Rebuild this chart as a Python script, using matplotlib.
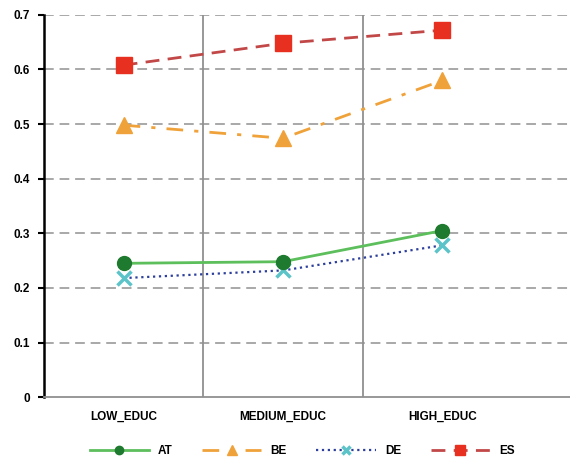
import matplotlib
matplotlib.use("Agg")
import matplotlib.pyplot as plt

categories = ["LOW_EDUC", "MEDIUM_EDUC", "HIGH_EDUC"]
at = [0.245, 0.248, 0.305]
be = [0.498, 0.474, 0.580]
de = [0.218, 0.232, 0.278]
es = [0.608, 0.648, 0.672]
yticks = [0, 0.1, 0.2, 0.3, 0.4, 0.5, 0.6, 0.7]
ytick_labels = ["0", "0.1", "0.2", "0.3", "0.4", "0.5", "0.6", "0.7"]

plt.rcParams['font.family'] = ['Liberation Sans', 'DejaVu Sans']
fig = plt.figure(figsize=(5.7, 4.65), dpi=100)
ax = fig.add_axes([0.077, 0.146, 0.923, 0.822])

x = list(range(len(categories)))
ax.plot(x, at, color="#5cbf5c", lw=2, ls="-", marker="o", ms=10,
        mfc="#1e7a2e", mec="#1e7a2e", label="AT", zorder=4)
ax.plot(x, be, color="#f0a23a", lw=2, ls=(0, (6, 4, 1.5, 4)), marker="^", ms=11,
        mfc="#f0a23a", mec="#f0a23a", label="BE", zorder=3)
ax.plot(x, de, color="#2c3f9c", lw=1.6, ls=":", marker="x", ms=10, mew=2.5,
        mfc="#5cc4c8", mec="#5cc4c8", label="DE", zorder=3)
ax.plot(x, es, color="#c24848", lw=2, ls=(0, (5, 3)), marker="s", ms=11,
        mfc="#e83020", mec="#e83020", label="ES", zorder=3)

ax.set_xlim(-0.5, 2.8)
ax.set_ylim(0, 0.7)
ax.set_yticks(yticks)
ax.set_yticklabels(ytick_labels, fontsize=8.5, fontweight="bold")
ax.set_xticks(x)
ax.set_xticklabels(categories, fontsize=8.5, fontweight="bold")
ax.tick_params(axis="x", length=0, pad=10)
ax.tick_params(axis="y", length=4, width=1.5, color="black", pad=6)

for yv in yticks[1:]:
    ax.axhline(yv, color="#a8a8a8", lw=1.4, ls=(0, (5, 3)), zorder=1)
for xv in [0.5, 1.5]:
    ax.axvline(xv, color="#909090", lw=1.3, zorder=1)

ax.spines["top"].set_visible(False)
ax.spines["right"].set_visible(False)
ax.spines["left"].set_color("black")
ax.spines["left"].set_linewidth(1.8)
ax.spines["bottom"].set_color("#909090")
ax.spines["bottom"].set_linewidth(1.3)

fig.legend(loc="lower center", bbox_to_anchor=(0.53, -0.005), ncol=4,
           frameon=False, handlelength=5, columnspacing=2.5,
           markerscale=0.6, prop={"weight": "bold", "size": 8.5})
fig.savefig("out.png", dpi=100)
